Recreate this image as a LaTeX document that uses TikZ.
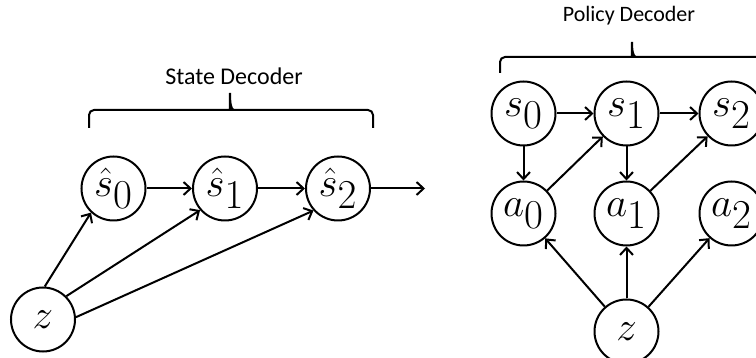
\documentclass[tikz,border=0pt]{standalone}
\usepackage{fontspec}
\newfontfamily\labfont{Carlito}
\usetikzlibrary{arrows.meta}
\newcommand{\clab}[1]{\scalebox{1.65}{\Huge$#1$}}
\begin{document}
\begin{tikzpicture}[x=1pt,y=-1pt,
  st/.style={circle,draw,line width=2pt,minimum size=64pt,inner sep=0pt},
  arr/.style={-{Straight Barb[length=7pt,width=13pt]},line width=2pt},
  ln/.style={line width=2pt},
  lab/.style={anchor=base,inner sep=0pt}]
\useasboundingbox (0,0) rectangle (756,358);
% left: state decoder
\node[st] (z) at (43,319.5) {\clab{z}};
\node[st] (h0) at (113.5,188.5) {\clab{\hat{s}_{\textstyle 0}}};
\node[st] (h1) at (225,188.5) {\clab{\hat{s}_{\textstyle 1}}};
\node[st] (h2) at (338,188.5) {\clab{\hat{s}_{\textstyle 2}}};
\coordinate (out) at (425,188.5);
\draw[arr] (h0) -- (h1);
\draw[arr] (h1) -- (h2);
\draw[arr] (h2) -- (out);
\draw[arr] (z.87) -- (h0.227);
\draw[arr] (z.45) -- (h1.221);
\draw[arr] (z.4) -- (h2.222);
\node[lab,font=\labfont\fontsize{24}{28}\selectfont] (lt) at (234,85) {State Decoder};
\draw[ln] (89,128) [rounded corners=5pt] -- (89,110) -- (226,110) [sharp corners]
  .. controls (229,110) and (230,103) .. (230,93)
  .. controls (230,103) and (231,110) .. (234,110) [rounded corners=5pt]
  -- (373,110) -- (373,128);
% right: policy decoder
\node[st] (s0) at (523.5,113.5) {\clab{s_{\textstyle 0}}};
\node[st] (s1) at (626.5,113.5) {\clab{s_{\textstyle 1}}};
\node[st] (s2) at (731.5,113.5) {\clab{s_{\textstyle 2}}};
\node[st] (a0) at (523.5,213.5) {\clab{a_{\textstyle 0}}};
\node[st] (a1) at (626.5,213.5) {\clab{a_{\textstyle 1}}};
\node[st] (a2) at (731.5,213.5) {\clab{a_{\textstyle 2}}};
\node[st] (zz) at (626.5,331.5) {\clab{z}};
\draw[arr] (s0) -- (s1);
\draw[arr] (s1) -- (s2);
\draw[arr] (s0) -- (a0);
\draw[arr] (s1) -- (a1);
\draw[arr] (a0) -- (s1);
\draw[arr] (a1) -- (s2);
\draw[arr] (zz) -- (a0);
\draw[arr] (zz) -- (a1);
\draw[arr] (zz) -- (a2);
\node[lab,font=\labfont\fontsize{22}{26}\selectfont] (rt) at (629,22) {Policy Decoder};
\draw[ln] (500,73) [rounded corners=5pt] -- (500,57) -- (628,57) [sharp corners]
  .. controls (631,57) and (632,50) .. (632,42)
  .. controls (632,50) and (633,57) .. (636,57) [rounded corners=5pt]
  -- (780,57);
\end{tikzpicture}
\end{document}
